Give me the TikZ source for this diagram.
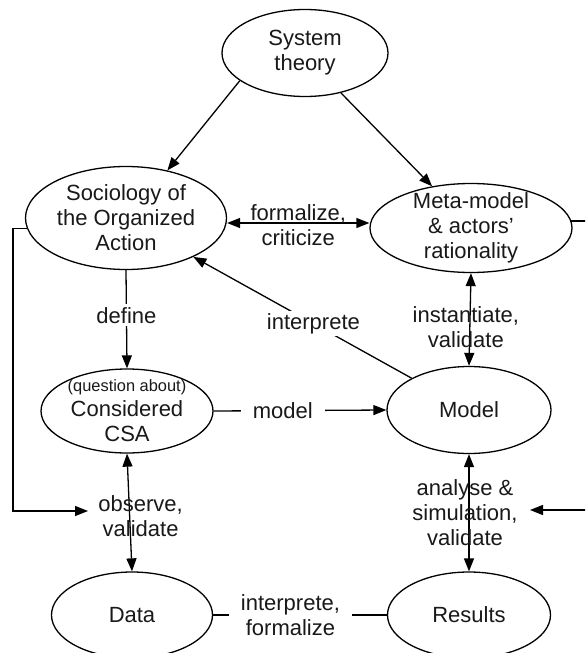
\documentclass[tikz,border=0pt]{standalone}
\usepackage{fontspec}
\setmainfont{Liberation Sans}
\usetikzlibrary{arrows.meta,shapes.geometric}
\begin{document}
\begin{tikzpicture}[x=0.5pt,y=-0.5pt,
  every node/.style={font=\fontsize{11}{12.5}\selectfont, text=black!90},
  blob/.style={ellipse, draw, line width=0.65pt, align=center,
    inner xsep=0pt, inner ysep=-5pt},
  conn/.style={line width=0.65pt},
  arr/.style={conn, -{Triangle[length=6.5pt,width=5pt]}},
  darr/.style={conn, {Triangle[length=6.5pt,width=5pt]}-{Triangle[length=6.5pt,width=5pt]}},
  cut/.style={fill=white, inner xsep=6pt, inner ysep=1.5pt, align=center},
  over/.style={align=center, inner sep=0pt}]

% canvas
\useasboundingbox (0,0) rectangle (585,653);
\clip (0,0) rectangle (585,653);
\fill[white] (0,0) rectangle (585,653);

% concepts
\node[blob, minimum width=83pt, minimum height=43.5pt] (sys) at (305,53) {System\\theory};
\node[blob, minimum width=100.5pt, minimum height=51.5pt] (soc) at (126,218) {Sociology of\\the Organized\\Action};
\node[blob, minimum width=101pt, minimum height=44.5pt] (meta) at (471,228) {Meta-model\\\& actors'\\rationality};
\node[blob, minimum width=86pt, minimum height=42pt] (csa) at (127,411)
  {{\fontsize{8.2}{12.5}\selectfont(question about)}\\Considered\\CSA};
\node[blob, minimum width=82pt, minimum height=43.5pt] (model) at (469,410) {Model};
\node[blob, minimum width=80.5pt, minimum height=43pt] (data) at (132,615) {Data};
\node[blob, minimum width=81.5pt, minimum height=43pt] (res) at (469,615) {Results};

% relations
\draw[arr] (sys.203) -- (soc.49);
\draw[arr] (sys.-48) -- (meta.133);
\path (soc.east) -- (meta.west) coordinate[midway] (fcmid);
\draw[darr] (soc.east |- fcmid) -- (meta.west |- fcmid)
  node[over, midway, yshift=-1.25pt] {formalize,\\criticize};
\draw[arr] (model.151) -- (soc.-30) node[cut, pos=0.45, inner xsep=1pt, inner ysep=1pt] {interprete};
\draw[arr] (soc.south) -- (csa.north) node[cut, pos=0.46] {define};
\draw[arr] (csa.east) -- (model.west) node[cut, pos=0.4] {model};
\draw[darr] (meta.south) -- (model.north)
  node[over, pos=0.58, xshift=-2pt] {instantiate,\\validate};
\draw[darr] (model.south) -- (res.north)
  node[over, pos=0.5, xshift=-2pt] {analyse \&\\simulation,\\validate};
\draw[darr] (csa.south) -- (data.north)
  node[over, pos=0.53, xshift=5.5pt] {observe,\\validate};
\draw[conn] (data.east) -- (res.west)
  node[cut, pos=0.445] {interprete,\\formalize};

% feedback loops
\coordinate (lcorner) at (13,511);
\coordinate (ltip) at (88,511);
\draw[arr] (soc.186) -| (lcorner) -- (ltip);
\coordinate (rcorner) at (600,510);
\coordinate (rtip) at (530,510);
\draw[arr] (meta.4) -| (rcorner) -- (rtip);
\end{tikzpicture}
\end{document}
